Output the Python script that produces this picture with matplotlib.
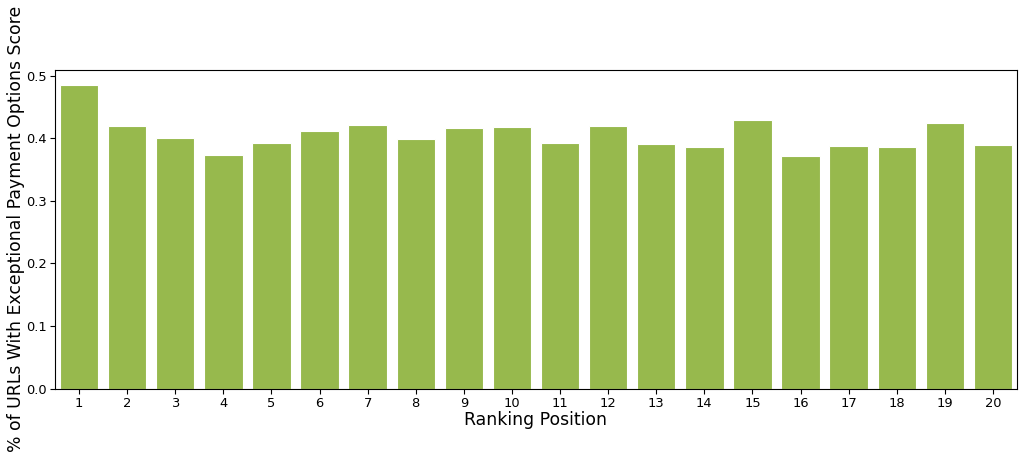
import matplotlib
matplotlib.use("Agg")
import matplotlib.pyplot as plt
import numpy as np

positions = [str(i) for i in range(1, 21)]
values = [0.485, 0.419, 0.400, 0.374, 0.393, 0.411, 0.422, 0.399, 0.416, 0.418,
          0.393, 0.419, 0.391, 0.386, 0.430, 0.372, 0.388, 0.386, 0.425, 0.390]

fig = plt.figure(figsize=(10.24, 4.59), dpi=100)
ax = fig.add_axes([55/1024, 1-388.5/459, (1017-55)/1024, (388.5-70)/459])
x = np.arange(len(positions))
ax.bar(x, values, width=0.8, color="#97b94d", edgecolor="white", linewidth=0.8)
ax.set_xticks(x)
ax.set_xticklabels(positions, fontsize=9.4)
ax.set_xlim(-0.5, len(positions) - 0.5)
ax.set_ylim(0, max(values) * 1.05)
ax.set_yticks([0.0, 0.1, 0.2, 0.3, 0.4, 0.5])
ax.tick_params(axis="y", labelsize=9.4, pad=2.5, length=3.5)
ax.tick_params(axis="x", pad=2.5, length=3.5)
ax.set_xlabel("Ranking Position", fontsize=12.4, labelpad=1)
ax.set_ylabel("% of URLs With Exceptional Payment Options Score", fontsize=12.4, labelpad=1)
fig.savefig("out.png", dpi=100)
